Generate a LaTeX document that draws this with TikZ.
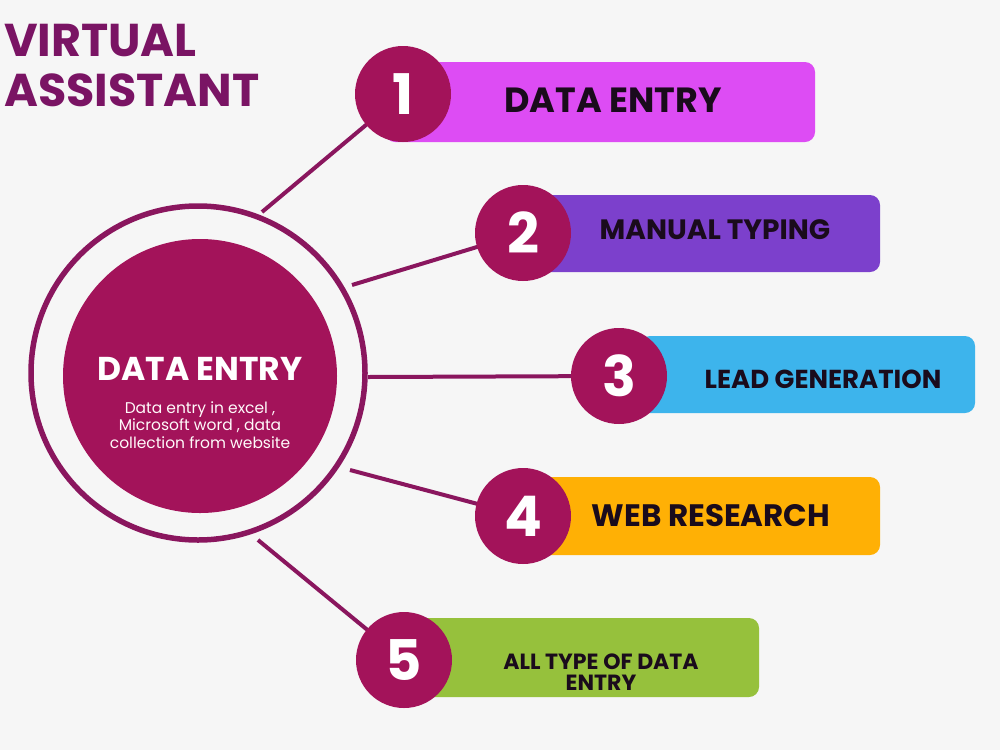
\documentclass[tikz,border=0pt]{standalone}
\usepackage{fontspec}
\setmainfont{Poppins}
\definecolor{bgc}{HTML}{F6F6F6}
\definecolor{titlec}{HTML}{7A1464}
\definecolor{ringc}{HTML}{8A165E}
\definecolor{discc}{HTML}{A3135A}
\definecolor{textd}{HTML}{1A0B1C}
\definecolor{c1}{HTML}{DD4CF4}
\definecolor{c2}{HTML}{7C40CC}
\definecolor{c3}{HTML}{3DB4EC}
\definecolor{c4}{HTML}{FFB005}
\definecolor{c5}{HTML}{96C13C}
\begin{document}
\begin{tikzpicture}[x=1pt,y=-1pt,
  conn/.style={draw=ringc, line width=4pt},
  bar/.style={rounded corners=10pt, inner sep=0pt},
  numc/.style={circle, fill=discc, minimum size=96pt, inner sep=0pt, text=white, font=\fontsize{56}{56}\selectfont\bfseries},
  lbl/.style={text=textd, font=\bfseries, align=center, inner sep=0pt}]
\fill[bgc] (0,0) rectangle (1000,750);
\useasboundingbox (0,0) rectangle (1000,750);
% title
\node[anchor=west, text=titlec, font=\fontsize{46}{50}\selectfont\bfseries, align=left, inner sep=0pt] (title) at (4,66) {VIRTUAL\\ASSISTANT};
% connector anchors on ring
\coordinate (r1) at (262,212);
\coordinate (r2) at (352,285);
\coordinate (r3) at (368,377);
\coordinate (r4) at (350,470);
\coordinate (r5) at (258,540);
% number circles positions
\coordinate (p1) at (403,94);
\coordinate (p2) at (523,233);
\coordinate (p3) at (619,376);
\coordinate (p4) at (523,516);
\coordinate (p5) at (404,660);
\draw[conn] (r1) -- (p1);
\draw[conn] (r2) -- (p2);
\draw[conn] (r3) -- (p3);
\draw[conn] (r4) -- (p4);
\draw[conn] (r5) -- (p5);
% ring and disc
\node[circle, draw=ringc, line width=5.5pt, fill=bgc, minimum size=334pt, inner sep=0pt] (ring) at (198,373) {};
\node[circle, fill=discc, minimum size=274pt, inner sep=0pt] (disc) at (200,376) {};
\node[text=white, font=\fontsize{33}{36}\selectfont\bfseries, inner sep=0pt] (dtitle) at (200,369) {DATA ENTRY};
\node[text=white!92!pink, font=\fontsize{15.5}{17.5}\selectfont, align=center, inner sep=0pt] (dsub) at (200,425) {Data entry in excel ,\\Microsoft word , data\\collection from website};
% bars
\node[bar, fill=c1, minimum width=430pt, minimum height=80pt] (b1) at (600,102) {};
\node[bar, fill=c2, minimum width=340pt, minimum height=77pt] (b2) at (710,233.5) {};
\node[bar, fill=c3, minimum width=335pt, minimum height=77pt] (b3) at (807.5,374.5) {};
\node[bar, fill=c4, minimum width=340pt, minimum height=78pt] (b4) at (710,516) {};
\node[bar, fill=c5, minimum width=360pt, minimum height=79pt] (b5) at (579,657.5) {};
% numbers
\node[numc] (n1) at (p1) {1};
\node[numc] (n2) at (p2) {2};
\node[numc] (n3) at (p3) {3};
\node[numc] (n4) at (p4) {4};
\node[numc] (n5) at (p5) {5};
% labels
\node[lbl, font=\fontsize{35}{38}\selectfont\bfseries] (t1) at (613,100) {DATA ENTRY};
\node[lbl, font=\fontsize{28}{30}\selectfont\bfseries] (t2) at (715,230) {MANUAL TYPING};
\node[lbl, font=\fontsize{26}{28}\selectfont\bfseries] (t3) at (823,379) {LEAD GENERATION};
\node[lbl, font=\fontsize{31}{34}\selectfont\bfseries] (t4) at (711,516) {WEB RESEARCH};
\node[lbl, font=\fontsize{22}{21}\selectfont\bfseries] (t5) at (601,672) {ALL TYPE OF DATA\\ENTRY};
\end{tikzpicture}
\end{document}
